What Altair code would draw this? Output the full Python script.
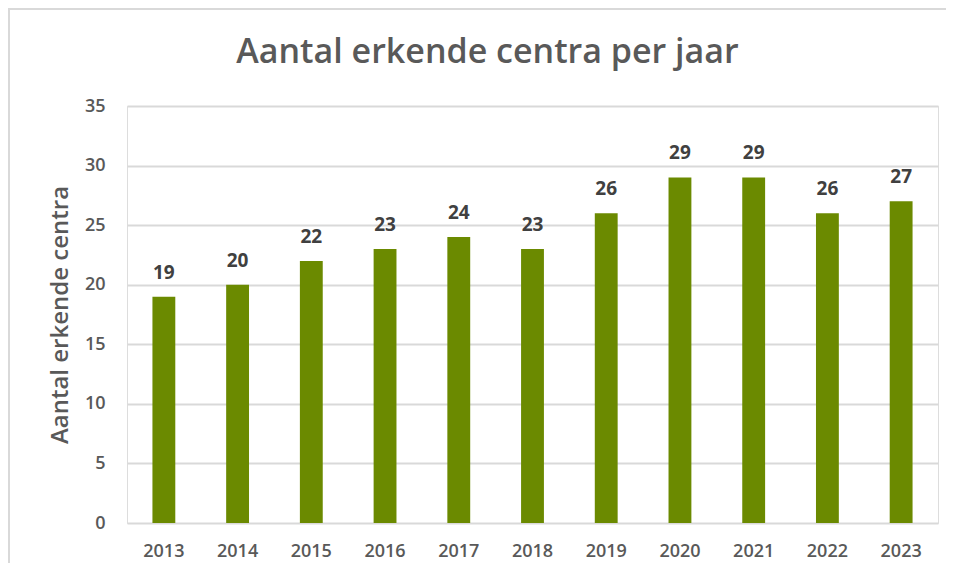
import altair as alt
import pandas as pd

years = ["2013", "2014", "2015", "2016", "2017", "2018", "2019", "2020", "2021", "2022", "2023"]
counts = [19, 20, 22, 23, 24, 23, 26, 29, 29, 26, 27]

df = pd.DataFrame({"jaar": years, "aantal": counts})

FONT = "Open Sans"
GRAY = "#595959"

base = alt.Chart(df).encode(
    x=alt.X("jaar:N", sort=years,
            scale=alt.Scale(paddingInner=0.69, paddingOuter=0.345),
            axis=alt.Axis(title=None, labelAngle=0, labelFontSize=18, labelFont=FONT,
                          labelFontWeight=600, labelColor=GRAY, labelPadding=19,
                          ticks=False, domain=False)),
    y=alt.Y("aantal:Q", scale=alt.Scale(domain=[0, 35]),
            axis=alt.Axis(title="Aantal erkende centra", titleFontSize=24, titleFont=FONT,
                          titleFontWeight=600, titleColor=GRAY, titlePadding=12,
                          values=[0, 5, 10, 15, 20, 25, 30, 35], labelFontSize=18,
                          labelFont=FONT, labelFontWeight=600, labelColor=GRAY,
                          labelPadding=22, ticks=False, domain=False,
                          gridColor="#d9d9d9", gridWidth=2)),
)

bars = base.mark_bar(color="#6b8a00")
labels = base.mark_text(baseline="bottom", dy=-14, fontSize=19, font=FONT,
                        fontWeight="bold", color="#404040").encode(text="aantal:Q")

border_left = alt.Chart(df).mark_rule(color="#d9d9d9", strokeWidth=2).encode(
    x=alt.value(-118), y=alt.value(-97), y2=alt.value(470))
border_top = alt.Chart(df).mark_rule(color="#d9d9d9", strokeWidth=2).encode(
    x=alt.value(-119), x2=alt.value(830), y=alt.value(-97))

chart = alt.layer(border_left, border_top, bars, labels).properties(
    width=811, height=417,
    padding={"left": 119, "top": 98, "right": 8, "bottom": 40},
    autosize=alt.AutoSizeParams(type="none"),
    title=alt.TitleParams("Aantal erkende centra per jaar", fontSize=34, font=FONT,
                          fontWeight=600, color=GRAY, anchor="middle", dx=-45,
                          offset=0, dy=62),
).configure_view(stroke=None).configure(background="white")

chart.save("out.html", embed_options={"renderer": "svg", "actions": False})
